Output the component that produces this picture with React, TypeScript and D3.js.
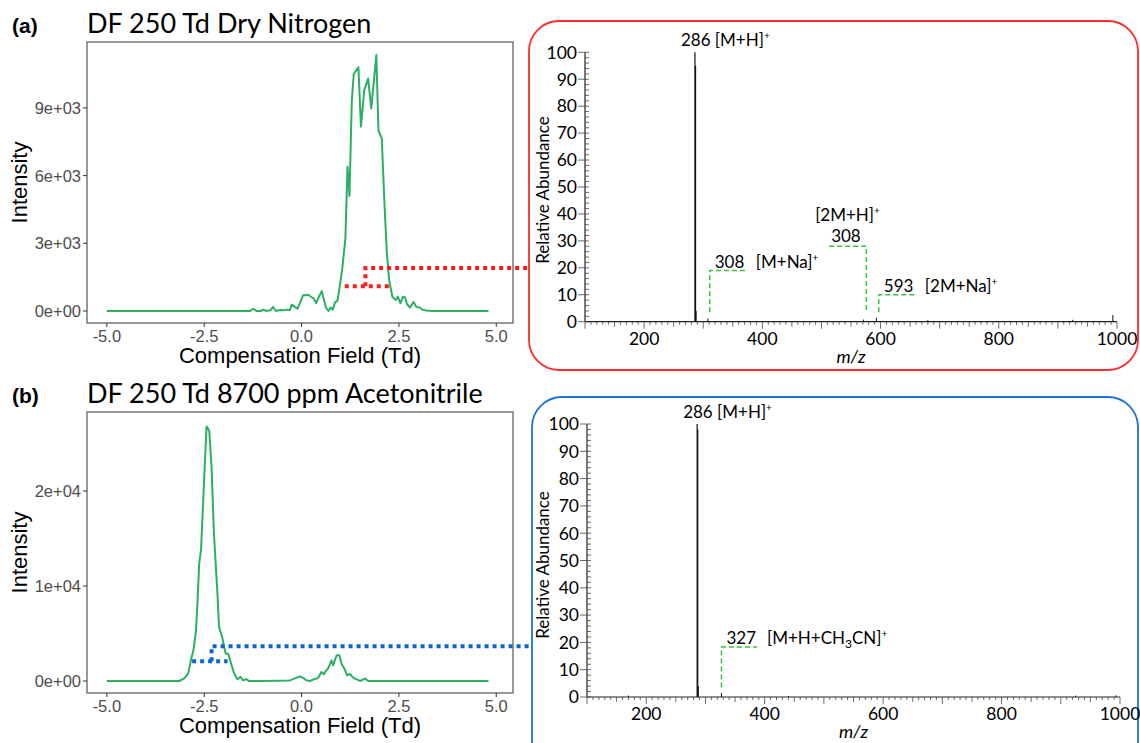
import React from 'react';
import * as d3 from 'd3';

// compensation field ticks shared by both CV scans
const cfTicks = [-5.0, -2.5, 0.0, 2.5, 5.0];

// (a) dry nitrogen CV scan
const dryCF = [-5.0, -1.32, -1.24, -1.16, -1.05, -0.98, -0.9, -0.8, -0.73, -0.66, -0.55, -0.46, -0.38, -0.3, -0.25, -0.17, -0.1, -0.02, 0.04, 0.12, 0.17, 0.25, 0.31, 0.375, 0.45, 0.52, 0.58, 0.625, 0.69, 0.75, 0.8, 0.86, 0.92, 0.96, 1.04, 1.125, 1.18, 1.23, 1.29, 1.34, 1.4, 1.46, 1.525, 1.61, 1.71, 1.79, 1.92, 1.975, 2.06, 2.125, 2.19, 2.25, 2.33, 2.42, 2.475, 2.54, 2.6, 2.66, 2.71, 2.79, 2.875, 2.95, 3.04, 3.1, 3.2, 3.35, 4.8];
const dryIntensity = [0, 0, 100, 0, 0, 60, 0, 30, 180, 0, 40, 30, 60, 40, 280, 180, 100, 450, 700, 700, 720, 620, 560, 350, 650, 880, 450, 150, 0, 150, 60, 380, 450, 850, 1800, 3200, 6400, 5100, 9300, 10500, 10650, 10800, 8170, 9790, 10300, 8980, 11340, 8000, 7650, 4920, 2570, 1370, 630, 490, 630, 340, 630, 600, 300, 150, 400, 180, 150, 60, 20, 0, 0];
const dryYTicks = [0, 3000, 6000, 9000];
const dryYLabels = ['0e+00', '3e+03', '6e+03', '9e+03'];

// (b) 8700 ppm acetonitrile CV scan
const acnCF = [-5.0, -3.14, -3.01, -2.91, -2.84, -2.77, -2.71, -2.67, -2.63, -2.58, -2.5, -2.44, -2.37, -2.31, -2.25, -2.16, -2.12, -2.04, -1.95, -1.88, -1.8, -1.73, -1.65, -1.57, -1.5, -1.42, -1.35, -1.0, -0.6, -0.3, -0.04, 0.05, 0.12, 0.21, 0.3, 0.42, 0.51, 0.57, 0.63, 0.68, 0.77, 0.81, 0.9, 0.97, 1.03, 1.1, 1.17, 1.24, 1.3, 1.37, 1.45, 1.5, 1.63, 1.71, 4.8];
const acnIntensity = [0, 0, 280, 800, 2200, 3400, 5340, 8500, 12300, 13900, 21400, 26800, 26350, 22400, 15500, 9200, 5700, 4640, 2900, 2850, 1700, 800, 170, 450, 60, 200, 0, 0, 30, 60, 490, 300, 80, 0, 150, 300, 950, 700, 1100, 1300, 2170, 1650, 2700, 2700, 1800, 1300, 600, 750, 450, 250, 120, 0, 250, 0, 0];
const acnYTicks = [0, 10000, 20000];
const acnYLabels = ['0e+00', '1e+04', '2e+04'];

// mass spectra
const mzTicks = [200, 400, 600, 800, 1000];
const abundTicks = [0, 10, 20, 30, 40, 50, 60, 70, 80, 90, 100];
const dryMz = [286, 287, 288, 308, 571, 593, 680, 925, 993];
const dryAbund = [100, 95, 4, 1.2, 0.8, 1.5, 0.6, 0.7, 2.5];
const acnMz = [170, 286, 287, 288, 327, 440, 925, 993];
const acnAbund = [0.5, 100, 98, 4, 1.5, 0.3, 0.5, 0.6];

// ion annotations: ion m/z, label level, m/z where the dashed ledge ends/starts
const dryIons = [
  { mz: 311, level: 19, other: 372, num: '308', ion: '[M+Na]', stacked: false },
  { mz: 576, level: 28, other: 513, num: '308', ion: '[2M+H]', stacked: true },
  { mz: 597, level: 10, other: 658, num: '593', ion: '[2M+Na]', stacked: false },
];
const acnIons = [
  { mz: 327, level: 18.3, other: 387, num: '327', ion: '[M+H+CH3CN]', stacked: false },
];

const GREEN = '#2bb063';
const GG = '"Liberation Sans", Arial, sans-serif';
const CAL = 'Lato, "Open Sans", sans-serif';

type Box = { left: number; top: number; right: number; bottom: number };

function Chromatogram(props: {
  box: Box; yDomain: [number, number]; cf: number[]; intensity: number[];
  yTicks: number[]; yLabels: string[]; title: string; tag: string;
  step: { from: number; to: number; at: number; low: number; high: number; end: number; color: string };
}) {
  const { box, cf, intensity, step } = props;
  const x = d3.scaleLinear().domain([-5.51, 5.43]).range([box.left, box.right]);
  const y = d3.scaleLinear().domain(props.yDomain).range([box.bottom, box.top]);
  const line = d3.line<number>().x((_, i) => x(cf[i])).y(d => y(d));
  const dots = `M${x(step.from)},${y(step.low)}H${x(step.to)}M${x(step.at)},${y(step.low)}V${y(step.high)}H${step.end}`;
  return (
    <g>
      <text x={12} y={box.top - 9} style={{ font: `bold 21px ${GG}` }}>{props.tag}</text>
      <text x={box.left} y={box.top - 9} style={{ font: `27px ${CAL}` }}>{props.title}</text>
      <rect x={box.left} y={box.top} width={box.right - box.left} height={box.bottom - box.top}
        fill="none" stroke="#555" strokeWidth={1.2} />
      {props.yTicks.map((t, i) => (
        <g key={t}>
          <line x1={box.left - 4} x2={box.left} y1={y(t)} y2={y(t)} stroke="#333" />
          <text x={box.left - 6} y={y(t)} dy="0.36em" textAnchor="end" fill="#4d4d4d"
            style={{ font: `16.5px ${GG}` }}>{props.yLabels[i]}</text>
        </g>
      ))}
      {cfTicks.map(t => (
        <g key={t}>
          <line x1={x(t)} x2={x(t)} y1={box.bottom} y2={box.bottom + 4} stroke="#333" />
          <text x={x(t)} y={box.bottom + 19} textAnchor="middle" fill="#4d4d4d"
            style={{ font: `16.5px ${GG}` }}>{t.toFixed(1)}</text>
        </g>
      ))}
      <text x={(box.left + box.right) / 2} y={box.bottom + 40} textAnchor="middle"
        style={{ font: `22px ${GG}` }}>Compensation Field (Td)</text>
      <text transform={`translate(27,${(box.top + box.bottom) / 2}) rotate(-90)`} textAnchor="middle"
        style={{ font: `22px ${GG}` }}>Intensity</text>
      <path d={line(intensity) || ''} fill="none" stroke={GREEN} strokeWidth={2} strokeLinejoin="round" />
      <path d={dots} fill="none" stroke={step.color} strokeWidth={4} strokeDasharray="4,4" />
    </g>
  );
}

function IonText(props: { x: number; y: number; text: string }) {
  // renders "[M+H+CH3CN]" with subscript digits and a superscript +
  const parts = props.text.split(/(\d(?=CN))/);
  return (
    <text x={props.x} y={props.y} style={{ font: `17px ${CAL}` }}>
      {parts.map((p, i) => /^\d$/.test(p)
        ? <tspan key={i} dy={4} style={{ fontSize: 12 }}>{p}</tspan>
        : <tspan key={i} dy={i > 0 ? -4 : 0}>{p}</tspan>)}
      <tspan dy={-7} style={{ fontSize: 10 }}>+</tspan>
    </text>
  );
}

function Spectrum(props: {
  frame: Box; xRange: [number, number]; yRange: [number, number]; color: string;
  mz: number[]; abund: number[]; ions: typeof dryIons; raY: number; mzY: number;
}) {
  const { frame } = props;
  const x = d3.scaleLinear().domain([100, 1000]).range(props.xRange);
  const y = d3.scaleLinear().domain([0, 100]).range(props.yRange);
  const minorX = d3.range(100, 1001, 10);
  const minorY = d3.range(0, 101, 2);
  const base = y(0);
  const ax = x(100);
  const basePeak = props.mz[props.abund.indexOf(100)];
  return (
    <g>
      <rect x={frame.left} y={frame.top} width={frame.right - frame.left} height={frame.bottom - frame.top}
        rx={30} fill="none" stroke={props.color} strokeWidth={1.8} />
      <line x1={ax} x2={ax} y1={base} y2={y(100)} stroke="#222" strokeWidth={1.2} />
      <line x1={ax} x2={x(1000)} y1={base} y2={base} stroke="#222" strokeWidth={1.2} />
      {minorY.map(t => (
        <line key={t} x1={t % 10 === 0 ? ax - 7 : ax} x2={ax + 4} y1={y(t)} y2={y(t)} stroke="#444" strokeWidth={0.8} />
      ))}
      {abundTicks.map(t => (
        <text key={t} x={ax - 8} y={y(t)} dy="0.36em" textAnchor="end" style={{ font: `17.5px ${CAL}` }}>{t}</text>
      ))}
      {minorX.map(t => (
        <line key={t} x1={x(t)} x2={x(t)} y1={base} y2={base + (t % 100 === 0 ? 7 : t % 50 === 0 ? 5 : 3)}
          stroke="#444" strokeWidth={0.8} />
      ))}
      {mzTicks.map(t => (
        <text key={t} x={x(t)} y={base + 23} textAnchor="middle" style={{ font: `17.5px ${CAL}` }}>{t}</text>
      ))}
      <text transform={`translate(549,${props.raY}) rotate(-90)`} textAnchor="middle"
        style={{ font: `17px ${CAL}` }}>Relative Abundance</text>
      <text x={(x(100) + x(1000)) / 2} y={props.mzY} textAnchor="middle"
        style={{ font: `italic 18px ${CAL}` }}>m/z</text>
      {props.mz.map((m, i) => (
        <line key={m} x1={x(m)} x2={x(m)} y1={base} y2={y(props.abund[i])} stroke="#111"
          strokeWidth={props.abund[i] > 50 ? 1.2 : 1} />
      ))}
      <text x={x(basePeak) - 14} y={y(100) - 6} style={{ font: `17px ${CAL}` }}>
        286 [M+H]<tspan dy={-7} style={{ fontSize: 10 }}>+</tspan>
      </text>
      {props.ions.map(d => {
        const path = d.stacked
          ? `M${x(d.other)},${y(d.level)}H${x(d.mz)}V${y(3.5)}`
          : `M${x(d.mz)},${y(3.5)}V${y(d.level)}H${x(d.other)}`;
        return (
          <g key={d.ion}>
            <path d={path} fill="none" stroke="#3cc13c" strokeWidth={1.5} strokeDasharray="5,3" />
            {d.stacked ? (
              <>
                <text x={x(d.other) + 2} y={y(d.level) - 4} style={{ font: `17px ${CAL}` }}>{d.num}</text>
                <IonText x={x(d.other) - 14} y={y(d.level) - 25} text={d.ion} />
              </>
            ) : (
              <>
                <text x={x(d.mz) + 5} y={y(d.level) - 3} style={{ font: `17px ${CAL}` }}>{d.num}</text>
                <IonText x={x(d.other) + 10} y={y(d.level) - 3} text={d.ion} />
              </>
            )}
          </g>
        );
      })}
    </g>
  );
}

export default function App() {
  return (
    <svg width={1140} height={743} style={{ position: 'absolute', left: 0, top: 0, background: '#fff' }}>
      <Chromatogram box={{ left: 87, top: 42, right: 513, bottom: 323 }} yDomain={[-532, 11920]}
        cf={dryCF} intensity={dryIntensity} yTicks={dryYTicks} yLabels={dryYLabels}
        title="DF 250 Td Dry Nitrogen" tag="(a)"
        step={{ from: 1.11, to: 2.27, at: 1.64, low: 1100, high: 1910, end: 528, color: '#ff1a1a' }} />
      <Chromatogram box={{ left: 87, top: 412, right: 513, bottom: 693 }} yDomain={[-1263, 28316]}
        cf={acnCF} intensity={acnIntensity} yTicks={acnYTicks} yLabels={acnYLabels}
        title="DF 250 Td 8700 ppm Acetonitrile" tag="(b)"
        step={{ from: -2.81, to: -1.9, at: -2.31, low: 2070, high: 3650, end: 531, color: '#0b63d6' }} />
      <Spectrum frame={{ left: 529, top: 21, right: 1138, bottom: 370 }} xRange={[585, 1117]} yRange={[321.7, 52.3]}
        color="#ff2a2a" mz={dryMz} abund={dryAbund} ions={dryIons} raY={190} mzY={363} />
      <Spectrum frame={{ left: 532, top: 397, right: 1138, bottom: 790 }} xRange={[587, 1120]} yRange={[697, 424]}
        color="#1f72d8" mz={acnMz} abund={acnAbund} ions={acnIons} raY={565} mzY={738} />
    </svg>
  );
}
